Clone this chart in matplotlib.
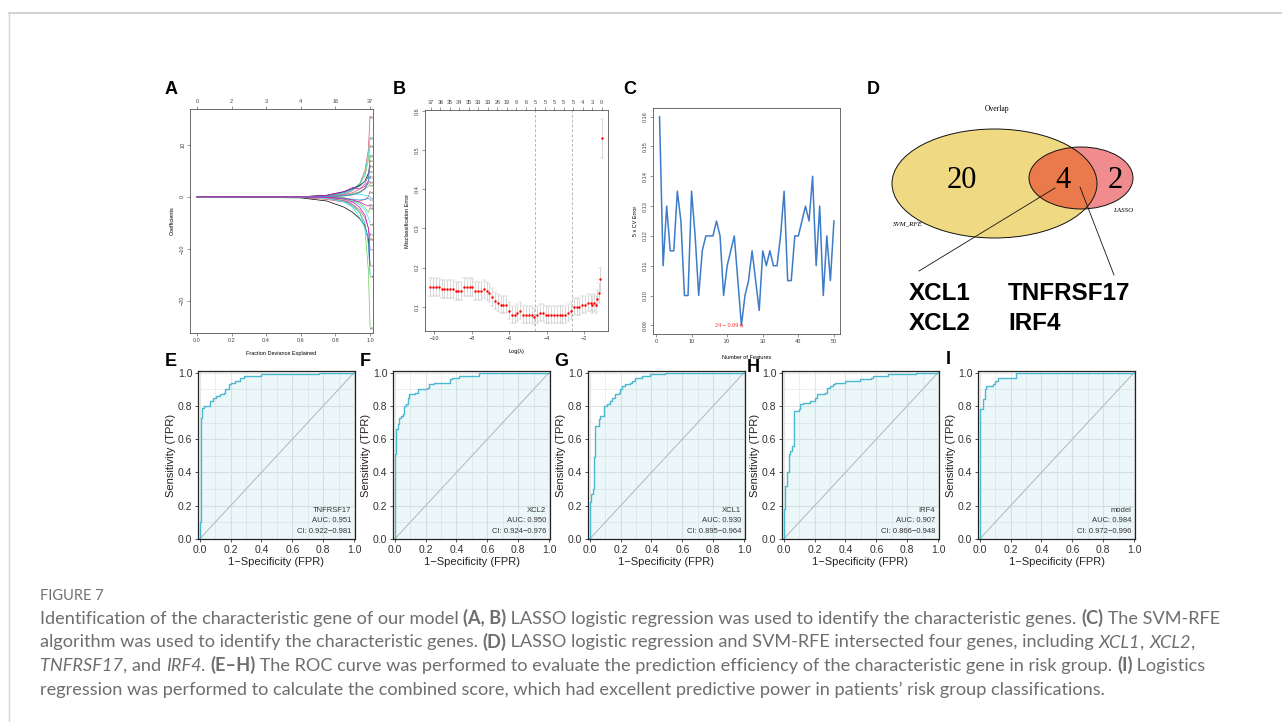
import matplotlib
matplotlib.use("Agg")
import matplotlib.pyplot as plt
import numpy as np
from matplotlib.patches import Ellipse
from matplotlib.lines import Line2D

W, H = 1282, 722

# ---- A: LASSO coefficient paths ----
a_frac = [0.0, 0.6, 0.75, 0.85, 0.9, 0.94, 0.97, 0.99, 1.0]
a_paths = [
    [0, 0.0, 0.1, 0.5, 1.2, 2.5, 5.0, 9.0, 15.5],
    [0, 0.0, 0.2, 0.6, 1.3, 2.5, 4.5, 8.0, 11.5],
    [0, 0.0, 0.3, 0.8, 1.5, 2.5, 4.0, 7.0, 10.0],
    [0, 0.0, 0.3, 1.0, 1.6, 2.2, 3.0, 4.5, 6.0],
    [0, 0.0, 0.2, 0.8, 1.5, 2.0, 3.0, 4.0, 5.0],
    [0, 0.0, 0.3, 1.0, 1.8, 1.5, 2.0, 3.0, 4.0],
    [0, -0.1, -0.5, -1.0, -1.0, -0.8, -0.5, 0.0, 1.0],
    [0, 0.0, 0.1, 0.3, 0.6, 1.0, 1.5, 2.0, 2.5],
    [0, 0.0, 0.0, 0.2, 0.5, 0.5, 0.3, 0.2, 0.0],
    [0, 0.0, 0.0, -0.2, -0.5, -0.6, -0.5, -0.3, -0.5],
    [0, -0.2, -0.8, -2.0, -3.0, -4.2, -5.5, -8.0, -13.0],
    [0, 0.0, -0.2, -0.8, -1.8, -3.0, -5.0, -9.0, -15.0],
    [0, 0.0, -0.1, -0.5, -1.5, -3.0, -6.0, -14.0, -25.0],
    [0, 0.0, -0.3, -1.0, -2.0, -4.0, -6.0, -8.0, -7.0],
    [0, 0.0, -0.2, -0.7, -1.5, -2.5, -4.0, -6.0, -8.0],
    [0, 0.0, -0.1, -0.4, -1.0, -2.0, -3.5, -6.0, -10.0],
    [0, 0.0, -0.1, -0.3, -0.8, -1.5, -2.5, -4.0, -5.0],
    [0, 0.0, 0.0, -0.2, -0.6, -1.2, -2.0, -3.0, -2.0],
    [0, 0.0, 0.0, 0.2, 0.4, 0.9, 1.6, 2.6, 3.0],
    [0, 0.0, 0.1, 0.4, 0.8, 1.5, 2.5, 4.0, 7.0],
    [0, 0.0, 0.05, 0.2, 0.4, 0.8, 1.5, 3.0, 8.0],
    [0, 0.0, -0.1, -0.3, -0.6, -1.0, -1.5, -1.8, -1.5],
]
a_labels = ["19", "33", "26", "35", "8", "13", "27", "31", "2", "5", "37",
            "22", "10", "17", "29", "3", "21", "24", "11", "6", "14", "30"]
a_top_labels = ["0", "2", "3", "4", "16", "37"]

# ---- B: cv misclassification error ----
b_loglam = [-10.20, -10.05, -9.90, -9.75, -9.60, -9.45, -9.30, -9.15, -9.00, -8.85,
            -8.70, -8.55, -8.40, -8.25, -8.10, -7.95, -7.80, -7.65, -7.50, -7.35,
            -7.20, -7.05, -6.90, -6.75, -6.60, -6.45, -6.30, -6.15, -6.00, -5.85,
            -5.70, -5.55, -5.40, -5.25, -5.10, -4.95, -4.80, -4.65, -4.50, -4.35,
            -4.20, -4.05, -3.90, -3.75, -3.60, -3.45, -3.30, -3.15, -3.00, -2.85,
            -2.70, -2.55, -2.40, -2.25, -2.10, -1.95, -1.80, -1.65, -1.55, -1.45,
            -1.38, -1.30, -1.22, -1.13, -1.02]
b_err = [0.15, 0.15, 0.15, 0.15, 0.145, 0.145, 0.145, 0.145, 0.145, 0.14,
         0.14, 0.14, 0.15, 0.15, 0.15, 0.15, 0.14, 0.14, 0.14, 0.145,
         0.14, 0.135, 0.125, 0.115, 0.11, 0.105, 0.105, 0.105, 0.09, 0.08,
         0.08, 0.085, 0.09, 0.08, 0.08, 0.08, 0.08, 0.075, 0.08, 0.085,
         0.085, 0.08, 0.08, 0.08, 0.08, 0.08, 0.08, 0.08, 0.08, 0.085,
         0.09, 0.10, 0.10, 0.10, 0.105, 0.105, 0.11, 0.11, 0.105, 0.11,
         0.105, 0.12, 0.135, 0.17, 0.53]
b_sd = [0.022] * 62 + [0.025, 0.03, 0.05]
b_top_pos = [-10.17, -9.66, -9.16, -8.65, -8.14, -7.64, -7.13, -6.62, -6.12, -5.61,
             -5.10, -4.60, -4.09, -3.58, -3.08, -2.57, -2.06, -1.56, -1.05]
b_top_labels = ["37", "36", "35", "34", "35", "33", "33", "26", "19", "9",
                "6", "5", "5", "5", "5", "5", "4", "3", "0"]
b_lam_min, b_lam_1se = -4.6, -2.65

# ---- C: SVM-RFE CV error ----
c_features = list(range(1, 51))
c_error = [0.16, 0.11, 0.13, 0.115, 0.115, 0.135, 0.125, 0.10, 0.10, 0.135,
           0.12, 0.10, 0.115, 0.12, 0.12, 0.12, 0.125, 0.12, 0.10, 0.11,
           0.115, 0.12, 0.105, 0.09, 0.10, 0.105, 0.115, 0.105, 0.095, 0.115,
           0.11, 0.115, 0.11, 0.11, 0.12, 0.135, 0.105, 0.105, 0.12, 0.12,
           0.125, 0.13, 0.125, 0.14, 0.11, 0.13, 0.10, 0.12, 0.105, 0.125]
c_best_n, c_best_err = 24, 0.09

# ---- D: Venn ----
venn_counts = {"svm_only": 20, "both": 4, "lasso_only": 2}
genes_left = ["XCL1", "XCL2"]
genes_right = ["TNFRSF17", "IRF4"]

# ---- E-I: ROC ----
roc_names = ["TNFRSF17", "XCL2", "XCL1", "IRF4", "model"]
roc_auc = ["0.951", "0.950", "0.930", "0.907", "0.984"]
roc_ci = ["0.922\u22120.981", "0.924\u22120.976", "0.895\u22120.964",
          "0.866\u22120.948", "0.972\u22120.996"]
fpr_e = [0, 0.005, 0.010, 0.015, 0.028, 0.065, 0.087, 0.108, 0.13, 0.158, 0.167,
         0.188, 0.206, 0.23, 0.26, 0.29, 0.40, 0.77, 1.0]
tpr_e = [0, 0.10, 0.73, 0.79, 0.80, 0.83, 0.85, 0.86, 0.87, 0.88, 0.90,
         0.93, 0.94, 0.95, 0.97, 0.98, 0.99, 1.0, 1.0]
fpr_f = [0, 0.002, 0.009, 0.019, 0.026, 0.041, 0.054, 0.0625, 0.073, 0.084, 0.095,
         0.134, 0.149, 0.209, 0.22, 0.252, 0.36, 0.371, 0.414, 0.543, 1.0]
tpr_f = [0, 0.51, 0.66, 0.69, 0.73, 0.74, 0.75, 0.80, 0.81, 0.85, 0.87,
         0.88, 0.90, 0.91, 0.93, 0.94, 0.96, 0.97, 0.98, 1.0, 1.0]
fpr_g = [0, 0.002, 0.009, 0.019, 0.026, 0.037, 0.058, 0.069, 0.095, 0.112, 0.129,
         0.144, 0.166, 0.1875, 0.198, 0.209, 0.23, 0.263, 0.274, 0.295, 0.338,
         0.392, 0.489, 1.0]
tpr_g = [0, 0.22, 0.27, 0.30, 0.49, 0.68, 0.72, 0.74, 0.80, 0.81, 0.83,
         0.85, 0.87, 0.88, 0.90, 0.92, 0.93, 0.94, 0.95, 0.97, 0.98,
         0.99, 1.0, 1.0]
fpr_h = [0, 0.002, 0.011, 0.021, 0.032, 0.043, 0.054, 0.064, 0.096, 0.103, 0.128,
         0.171, 0.203, 0.218, 0.268, 0.283, 0.30, 0.321, 0.332, 0.396, 0.4925,
         0.567, 0.578, 0.675, 0.857, 1.0]
tpr_h = [0, 0.18, 0.32, 0.40, 0.51, 0.53, 0.56, 0.77, 0.78, 0.81, 0.82,
         0.83, 0.85, 0.87, 0.88, 0.91, 0.92, 0.93, 0.94, 0.95, 0.96,
         0.97, 0.98, 0.99, 1.0, 1.0]
fpr_i = [0, 0.002, 0.021, 0.032, 0.043, 0.085, 0.10, 0.118, 0.235, 1.0]
tpr_i = [0, 0.78, 0.84, 0.90, 0.92, 0.93, 0.95, 0.97, 1.0, 1.0]
roc_fpr = [fpr_e, fpr_f, fpr_g, fpr_h, fpr_i]
roc_tpr = [tpr_e, tpr_f, tpr_g, tpr_h, tpr_i]


def rect(l, t, r, b):
    return [l / W, 1 - b / H, (r - l) / W, (b - t) / H]


def ptext(x, y, s, **kw):
    return fig.text(x / W, 1 - y / H, s, **kw)


def r_style(ax, fs=4):
    for sp in ax.spines.values():
        sp.set_color("#555555")
        sp.set_linewidth(0.6)
    ax.tick_params(length=2, width=0.4, pad=1.5, labelsize=fs, colors="#444444")
    for lb in ax.get_yticklabels():
        lb.set_rotation(90)
        lb.set_va("center")


plt.rcParams["font.family"] = ["Liberation Sans", "DejaVu Sans"]
fig = plt.figure(figsize=(W / 100, H / 100), dpi=100)

# page frame
fig.add_artist(Line2D([9 / W, 1], [1 - 13 / H, 1 - 13 / H], transform=fig.transFigure,
                      color="#D5D5D5", lw=1.5))
fig.add_artist(Line2D([9 / W, 9 / W], [1 - 13 / H, 0], transform=fig.transFigure,
                      color="#D5D5D5", lw=1.0))

r_cols = {"k": "#000000", "r": "#DF536B", "g": "#61D04F", "b": "#2297E6",
          "c": "#28E2E5", "m": "#CD0BBC"}
a_cols = ["r", "c", "g", "k", "b", "m", "r", "g", "c", "b", "k",
          "b", "g", "c", "r", "m", "c", "g", "r", "r", "b", "m"]

# ---- panel A ----
axA = fig.add_axes(rect(190, 109, 373, 333))
for vals, c in zip(a_paths, a_cols):
    axA.plot(a_frac, vals, color=r_cols[c], lw=0.5)
for vals, lab in zip(a_paths, a_labels):
    axA.text(1.003, vals[-1], lab, rotation=90, fontsize=2.3, va="center",
             ha="left", color="#444444")
axA.set_xlim(-0.04, 1.017)
axA.set_ylim(-26.2, 16.9)
axA.set_xticks([0, 0.2, 0.4, 0.6, 0.8, 1.0])
axA.set_xticklabels(["0.0", "0.2", "0.4", "0.6", "0.8", "1.0"])
axA.set_yticks([-20, -10, 0, 10])
axA.set_xlabel("Fraction Deviance Explained", fontsize=4, labelpad=6)
axA.set_ylabel("Coefficients", fontsize=4, labelpad=4)
r_style(axA)
secA = axA.secondary_xaxis("top")
secA.set_xticks([0, 0.2, 0.4, 0.6, 0.8, 1.0])
secA.set_xticklabels(a_top_labels)
secA.tick_params(length=2, width=0.4, pad=1.5, labelsize=4, colors="#444444")
secA.spines["top"].set_visible(False)

# ---- panel B ----
axB = fig.add_axes(rect(425, 110, 608, 331))
axB.errorbar(b_loglam, b_err, yerr=b_sd, fmt="o", color="#FF0000", ms=1.4, mew=0.3,
             ecolor="#BBBBBB", elinewidth=0.4, capsize=1.2, capthick=0.4)
axB.axvline(b_lam_min, color="#999999", lw=0.5, ls=(0, (4, 3)))
axB.axvline(b_lam_1se, color="#999999", lw=0.5, ls=(0, (4, 3)))
axB.set_xlim(-10.48, -0.72)
axB.set_ylim(0.038, 0.602)
axB.set_xticks([-10, -8, -6, -4, -2])
axB.set_xticklabels(["\u221210", "\u22128", "\u22126", "\u22124", "\u22122"])
axB.set_yticks([0.1, 0.2, 0.3, 0.4, 0.5, 0.6])
axB.set_xlabel("Log(\u03bb)", fontsize=4, labelpad=6)
axB.set_ylabel("Misclassification Error", fontsize=4, labelpad=4)
r_style(axB)
secB = axB.secondary_xaxis("top")
secB.set_xticks(b_top_pos)
secB.set_xticklabels(b_top_labels)
secB.tick_params(length=2, width=0.4, pad=1.5, labelsize=4, colors="#444444")
secB.spines["top"].set_visible(False)

# ---- panel C ----
axC = fig.add_axes(rect(653, 108, 840, 334))
axC.plot(c_features, c_error, color="#3D7CC9", lw=1.1)
axC.plot([c_best_n], [c_best_err], "o", mfc="none", mec="#FF3030", ms=2, mew=0.4)
axC.text(c_best_n - 1, c_best_err, "%d \u2212 %.2f" % (c_best_n, c_best_err),
         color="#FF3030", fontsize=4, ha="right", va="center")
axC.set_xlim(-0.84, 51.7)
axC.set_ylim(0.0871, 0.1629)
axC.set_xticks([0, 10, 20, 30, 40, 50])
axC.set_yticks([0.09, 0.10, 0.11, 0.12, 0.13, 0.14, 0.15, 0.16])
axC.set_yticklabels(["0.09", "0.10", "0.11", "0.12", "0.13", "0.14", "0.15", "0.16"])
axC.set_xlabel("Number of Features", fontsize=4, labelpad=8)
axC.set_ylabel("5 x CV Error", fontsize=4, labelpad=4)
r_style(axC)

# ---- panel D ----
axD = fig.add_axes(rect(880, 95, 1145, 345))
axD.set_xlim(880, 1145)
axD.set_ylim(345, 95)
axD.axis("off")
big = Ellipse((994.5, 183.5), 205, 109, facecolor="#F0D983", edgecolor="none")
small = Ellipse((1081, 178), 104, 62, facecolor="#F08C8E", edgecolor="none")
axD.add_patch(big)
axD.add_patch(small)
inter = Ellipse((1081, 178), 104, 62, facecolor="#EA7A4B", edgecolor="none")
axD.add_patch(inter)
inter.set_clip_path(big)
axD.add_patch(Ellipse((994.5, 183.5), 205, 109, fill=False, edgecolor="#111111", lw=0.7))
axD.add_patch(Ellipse((1081, 178), 104, 62, fill=False, edgecolor="#111111", lw=0.7))
serif = ["Liberation Serif", "DejaVu Serif"]
axD.text(962, 180, str(venn_counts["svm_only"]), family=serif, fontsize=22,
         ha="center", va="center")
axD.text(1063, 180, str(venn_counts["both"]), family=serif, fontsize=22,
         ha="center", va="center")
axD.text(1115, 180, str(venn_counts["lasso_only"]), family=serif, fontsize=22,
         ha="center", va="center")
axD.text(997, 109, "Overlap", family=serif, fontsize=5.5, ha="center", va="center")
axD.text(908, 224, "SVM_RFE", family=serif, fontsize=5, style="italic",
         ha="center", va="center")
axD.text(1123, 211, "LASSO", family=serif, fontsize=5, style="italic",
         ha="center", va="center")
axD.plot([1055, 919], [188, 271], color="#111111", lw=0.6)
axD.plot([1080, 1114], [187, 275], color="#111111", lw=0.6)
for k, g in enumerate(genes_left):
    axD.text(909, 293 + 30 * k, g, fontsize=17.5, weight="bold", ha="left", va="center")
for k, g in enumerate(genes_right):
    axD.text(1008, 293 + 30 * k, g, fontsize=17.5, weight="bold", ha="left", va="center")

# ---- panels E-I ----
roc_left = [198, 393, 588, 782, 978]
grid_ticks = [0, 0.2, 0.4, 0.6, 0.8, 1.0]
for k in range(5):
    ax = fig.add_axes(rect(roc_left[k], 371, roc_left[k] + 157, 539))
    ax.set_axisbelow(True)
    ax.fill_between(roc_fpr[k], roc_tpr[k], step="post", color="#4BB8D2",
                    alpha=0.1, lw=0)
    ax.plot([0, 1], [0, 1], color="#B5B5B5", lw=0.7)
    ax.step(roc_fpr[k], roc_tpr[k], where="post", color="#4BB8D2", lw=1.0)
    ax.set_xlim(-0.011, 1.006)
    ax.set_ylim(0, 1.01)
    ax.set_xticks(grid_ticks)
    ax.set_yticks(grid_ticks)
    ax.set_xticklabels(["0.0", "0.2", "0.4", "0.6", "0.8", "1.0"])
    ax.set_yticklabels(["0.0", "0.2", "0.4", "0.6", "0.8", "1.0"])
    ax.set_xticks([0.1, 0.3, 0.5, 0.7, 0.9], minor=True)
    ax.set_yticks([0.1, 0.3, 0.5, 0.7, 0.9], minor=True)
    ax.grid(which="major", color="#E4E4E4", lw=0.8)
    ax.grid(which="minor", color="#E4E4E4", lw=0.45)
    ax.tick_params(which="minor", length=0)
    ax.tick_params(which="major", length=2.5, width=0.6, pad=1.5, labelsize=7.5,
                   colors="#333333")
    for sp in ax.spines.values():
        sp.set_color("#222222")
        sp.set_linewidth(0.9)
    ax.set_xlabel("1\u2212Specificity (FPR)", fontsize=8, labelpad=1.5, color="#222222")
    ax.set_ylabel("Sensitivity (TPR)", fontsize=8, labelpad=1.5, color="#222222")
    ax.text(0.98, 0.17, roc_names[k], fontsize=5.5, ha="right", va="center", color="#333333")
    ax.text(0.98, 0.11, "AUC: " + roc_auc[k], fontsize=5.5, ha="right", va="center",
            color="#333333")
    ax.text(0.98, 0.045, "CI: " + roc_ci[k], fontsize=5.5, ha="right", va="center",
            color="#333333")

# panel letters
letters = [("A", 171, 90), ("B", 399, 90), ("C", 630, 90), ("D", 873, 90),
           ("E", 171, 362), ("F", 365, 362), ("G", 561, 362), ("H", 753, 368),
           ("I", 948, 360)]
for s, x, y in letters:
    ptext(x, y, s, fontsize=13, weight="bold", ha="center", va="center")

# ---- caption ----
cap_fam = ["Lato", "DejaVu Sans"]
renderer = fig.canvas.get_renderer()


def rich_line(x, y, segs, size):
    arts = []
    for txt, st in segs:
        kw = dict(fontsize=size, family=cap_fam, color="#6E6E6E", va="baseline",
                  ha="left")
        if st == "b":
            kw["weight"] = "bold"
        if st == "i":
            kw["style"] = "italic"
        t = ptext(x, y, txt, **kw)
        x += t.get_window_extent(renderer).width
        arts.append(t)
    return x, arts


cap_lines = [
    [("Identification of the characteristic gene of our model ", "n"), ("(A, B)", "b"),
     (" LASSO logistic regression was used to identify the characteristic genes. ", "n"),
     ("(C)", "b"), (" The SVM-RFE", "n")],
    [("algorithm was used to identify the characteristic genes. ", "n"), ("(D)", "b"),
     (" LASSO logistic regression and SVM-RFE intersected four genes, including ", "n"),
     ("XCL1", "i"), (", ", "n"), ("XCL2", "i"), (",", "n")],
    [("TNFRSF17", "i"), (", and ", "n"), ("IRF4", "i"), (". ", "n"), ("(E\u2013H)", "b"),
     (" The ROC curve was performed to evaluate the prediction efficiency of the "
      "characteristic gene in risk group. ", "n"), ("(I)", "b"), (" Logistics", "n")],
    [("regression was performed to calculate the combined score, which had excellent "
      "predictive power in patients\u2019 risk group classifications.", "n")],
]
x_end, tmp = rich_line(40, 624, cap_lines[0], 12)
for t in tmp:
    t.remove()
cap_size = 12 * (1222 - 40) / (x_end - 40)
for k, segs in enumerate(cap_lines):
    rich_line(40, 624 + 23.5 * k, segs, cap_size)
ptext(40, 600, "FIGURE 7", fontsize=10.5, family=cap_fam, color="#707070",
      va="baseline", ha="left")

fig.savefig("out.png", dpi=100)
